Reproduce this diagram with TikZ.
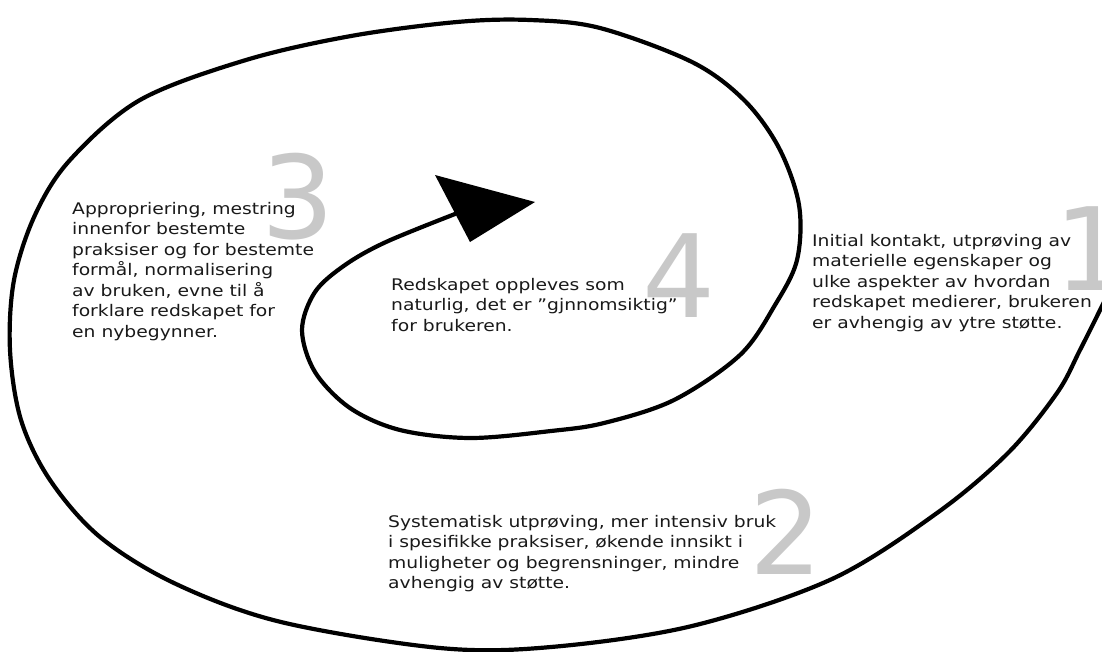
\documentclass[tikz,border=0pt]{standalone}
\usepackage{graphicx}
\usepackage{fontspec}
\setmainfont{DejaVu Sans}
\definecolor{numgray}{RGB}{200,200,200}
\definecolor{txtcol}{RGB}{25,25,25}
\newcommand{\desctext}[1]{\scalebox{1.17}[1]{\fontsize{16}{20.5}\selectfont\begin{tabular}[t]{@{}l@{}}#1\end{tabular}}}
\tikzset{
  desc/.style={anchor=base west, inner sep=0pt, text=txtcol},
  bignum/.style={anchor=base west, inner sep=0pt, font=\fontsize{115}{115}\selectfont, text=numgray},
  spiral/.style={line width=4.2pt, line cap=round, line join=round},
  headfill/.style={fill=black},
}
\begin{document}
\begin{tikzpicture}[x=1pt,y=-1pt]
\useasboundingbox (0,0) rectangle (1102,651);
% big numbers (behind)
\node[bignum] (n3) at (261,238) {3};
\node[bignum] (n4) at (642,317) {4};
\node[bignum] (n1) at (1054,290) {1};
\node[bignum] (n2) at (749,574) {2};
% spiral
\draw[spiral] plot[smooth, tension=0.55] coordinates {
 (1106,298) (1080,350) (1057,393) (1008,453) (937,513) (832,579) (692,626)
 (551,647) (440,648) (281,622) (176,584) (100,537) (50,480) (21,420)
 (10,350) (14,280) (35,215) (70,160) (140,100) (246,60) (351,36) (457,22)
 (530,20) (600,28) (692,62) (744,100) (779,148) (799,205) (797,260)
 (775,305) (740,355) (674,400) (604,423) (551,431) (470,438) (400,430)
 (350,408) (315,372) (302,330) (315,292) (345,265) (386,242) (455,214)};
% arrow head
\coordinate (tip) at (535,202);
\coordinate (hl) at (435,175);
\coordinate (hr) at (470,242);
\fill[headfill] (hl) -- (tip) -- (hr) -- cycle;
% texts
\node[desc] (t3) at (72,214) {\desctext{Appropriering, mestring\\innenfor bestemte\\praksiser og for bestemte\\formål, normalisering\\av bruken, evne til å\\forklare redskapet for\\en nybegynner.}};
\node[desc] (t4) at (391,290) {\desctext{Redskapet oppleves som\\naturlig, det er \char"22 gjnnomsiktig”\\for brukeren.}};
\node[desc] (t1) at (812,246) {\desctext{Initial kontakt, utprøving av\\materielle egenskaper og\\ulke aspekter av hvordan\\redskapet medierer, brukeren\\er avhengig av ytre støtte.}};
\node[desc] (t2) at (388,527) {\desctext{Systematisk utprøving, mer intensiv bruk\\i spesifikke praksiser, økende innsikt i\\muligheter og begrensninger, mindre\\avhengig av støtte.}};
\end{tikzpicture}
\end{document}
